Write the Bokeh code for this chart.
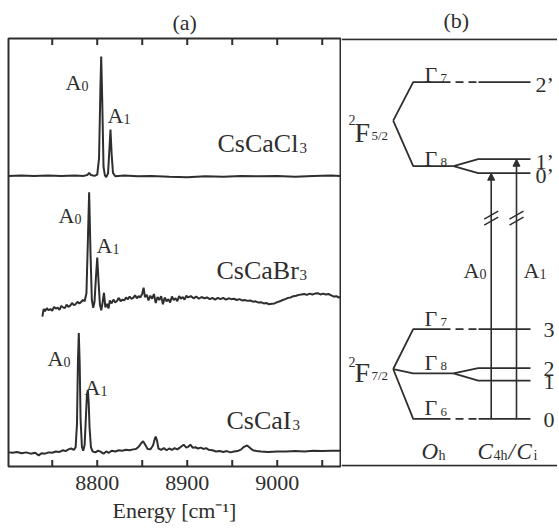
from bokeh.plotting import figure
from bokeh.models import Range1d, FixedTicker, Label, Arrow, NormalHead
from bokeh.layouts import row
from bokeh.embed import file_html
from bokeh.resources import INLINE

# ---------------- Panel (a): emission spectra (intensity incl. vertical offset) ----------------
energy_cl = [8702, 8715, 8730, 8745, 8760, 8775, 8785, 8789, 8791, 8793, 8797, 8800, 8802,
             8803.5, 8804.4, 8805.5, 8807, 8808.5, 8810, 8812, 8813.5, 8814.7, 8816, 8817.5,
             8820, 8830, 8845, 8860, 8880, 8900, 8920, 8940, 8960, 8980, 9000, 9020, 9040,
             9060, 9070]
intensity_cl = [67.9, 68.0, 67.9, 68.0, 67.9, 68.0, 67.9, 68.1, 68.6, 68.1, 67.9, 68.2, 72.0,
                88.0, 95.8, 86.0, 70.0, 68.0, 67.6, 68.5, 74.0, 78.7, 73.0, 68.6,
                67.8, 68.0, 67.8, 67.9, 67.7, 67.6, 67.8, 67.7, 67.9, 67.8, 67.9, 67.7, 67.9,
                68.0, 67.9]

energy_br = [8739, 8740.5,
             8742, 8744, 8746, 8748, 8750, 8752, 8754, 8756, 8758, 8760, 8762, 8764,
             8766, 8768, 8770, 8772, 8774, 8776, 8778, 8780, 8782, 8784, 8786, 8788,
             8789.5, 8791, 8792.5, 8794, 8795.5, 8797, 8798.5, 8800, 8801.5, 8803, 8804.5,
             8806, 8807.5, 8809, 8811, 8812.5, 8814,
             8816, 8818, 8820, 8822, 8824, 8826, 8828, 8830, 8832, 8834, 8836, 8838, 8840,
             8842, 8844, 8846, 8848, 8850,
             8851.5, 8853,
             8855, 8857, 8859, 8861, 8863, 8865, 8867, 8869, 8871, 8873, 8875, 8877, 8879,
             8881, 8883, 8885, 8887, 8889, 8891, 8893, 8895, 8897, 8899,
             8901, 8904, 8907, 8910, 8913, 8916, 8919, 8922, 8925, 8928, 8931, 8934, 8937,
             8940, 8943, 8946, 8949, 8952, 8955, 8958, 8961, 8964, 8967, 8970, 8973, 8976,
             8979, 8982, 8985, 8988, 8991, 8994, 8997, 9000, 9003, 9006, 9009, 9012, 9015,
             9018, 9021, 9024, 9027, 9030, 9033, 9036, 9039, 9042, 9045, 9048, 9051, 9054,
             9057, 9060, 9063, 9066, 9068, 9070]
intensity_br = [35.0, 36.8,
                36.3, 37.0, 36.5, 36.8, 36.4, 37.3, 36.9, 37.1, 36.6, 37.5, 37.2, 37.0,
                37.8, 37.3, 37.6, 38.2, 37.7, 37.9, 38.5, 38.1, 38.4, 38.9, 38.6, 40.5,
                52.0, 64.1, 50.0, 39.0, 37.1, 38.5, 44.0, 48.8, 43.0, 37.8, 36.5,
                38.4, 40.6, 37.2, 38.0, 36.9, 38.8,
                38.1, 39.0, 38.3, 38.7, 39.4, 38.6, 39.0, 38.8, 39.5, 39.1, 39.7, 39.2, 39.4,
                40.0, 39.3, 39.8, 39.5, 40.4,
                41.8, 39.6,
                40.1, 38.8, 39.9, 39.2, 40.3, 38.2, 39.6, 38.9, 39.8, 37.9, 39.5, 38.6, 39.1,
                38.3, 39.7, 38.9, 39.3, 38.6, 39.8, 39.2, 39.6, 39.0, 39.9,
                39.5, 39.8, 39.3, 39.7, 39.2, 39.6, 39.3, 39.5, 39.1, 39.4, 39.0, 39.4, 39.1,
                39.4, 39.0, 39.3, 39.1, 39.2, 38.9, 39.1, 38.8, 38.9, 38.7, 38.8, 38.5, 38.6,
                38.3, 38.4, 38.1, 38.2, 37.9, 38.0, 38.1, 38.4, 38.6, 38.9, 39.1, 39.4, 39.5,
                39.8, 39.9, 40.1, 40.2, 40.3, 40.1, 40.4, 40.2, 40.4, 40.5, 40.2, 40.4, 40.2,
                40.3, 40.0, 39.7, 39.8, 39.5, 39.6]

energy_i = [8702, 8706, 8711, 8716, 8721, 8726, 8731, 8735, 8738, 8742, 8746, 8750, 8754, 8758,
            8762, 8765, 8768, 8771, 8774, 8776, 8777.5, 8778.5, 8779.5, 8780.5, 8781.5, 8783,
            8784.4, 8786, 8787.5, 8788.5, 8789.5, 8790.5, 8791.5, 8793, 8795, 8798, 8801, 8804,
            8807, 8810, 8813, 8816, 8820, 8824, 8828, 8832, 8836, 8840, 8843, 8846, 8849, 8851,
            8853, 8856, 8859, 8862, 8864, 8865, 8866.5, 8868, 8871, 8874, 8877, 8880, 8883,
            8886, 8889, 8893, 8896, 8899, 8901, 8903.5, 8906, 8909, 8912, 8915, 8918, 8921,
            8924, 8928, 8932, 8936, 8940, 8944, 8948, 8952, 8956, 8960, 8963, 8966.5, 8970,
            8973, 8977, 8982, 8990, 9000, 9010, 9020, 9030, 9040, 9050, 9060, 9070]
intensity_i = [3.3, 3.2, 3.4, 3.1, 3.3, 3.0, 3.2, 2.6, 3.1, 3.0, 3.3, 3.2, 3.5, 3.4,
               3.8, 3.6, 4.0, 4.2, 3.9, 4.5, 10.0, 24.0, 31.2, 24.0, 11.0, 4.5,
               3.7, 5.0, 12.0, 16.5, 17.9, 15.0, 9.0, 4.5, 3.5, 3.3, 3.7, 3.4,
               3.0, 3.5, 3.2, 3.7, 3.5, 3.8, 3.7, 3.9, 3.8, 4.0, 4.1, 4.6, 5.5, 5.9,
               5.2, 4.1, 4.0, 4.9, 6.5, 7.0, 6.0, 4.2, 3.9, 4.3, 3.8, 4.2, 3.9,
               4.3, 4.0, 4.6, 5.1, 4.4, 4.6, 5.1, 4.4, 4.5, 4.2, 4.4, 4.1, 4.3,
               3.9, 3.8, 3.5, 3.6, 3.4, 3.6, 3.3, 3.5, 3.6, 4.0, 4.6, 4.9, 4.3,
               3.8, 3.6, 3.5, 3.4, 3.5, 3.5, 3.6, 3.5, 3.7, 3.6, 3.7, 3.7]

tick_major = [8800, 8900, 9000]
tick_minor = [8750, 8850, 8950, 9050]

# ---------------- Panel (b): level scheme (schematic vertical positions) ----------------
excited_vertex_y = 119.3
excited_oh_y = [80.7, 165.0]            # Gamma7, Gamma8
excited_c4h_y = [80.7, 158.0, 172.0]    # 2', 1', 0'
excited_c4h_names = ["2\u2019", "1\u2019", "0\u2019"]
ground_vertex_y = 368.3
ground_oh_y = [328.3, 372.7, 418.3]     # Gamma7, Gamma8, Gamma6
ground_c4h_y = [328.3, 367.3, 380.0, 418.3]   # 3, 2, 1, 0
ground_c4h_names = ["3", "2", "1", "0"]

FONT = "Liberation Serif"
INK = "#2e2e2e"
H = 528
TOP, BOTTOM = 37, H - 466   # borders shared by both panels


def style_title(p, text, offset, standoff):
    p.title.text = text
    p.title.align = "left"
    p.title.offset = offset
    p.title.standoff = standoff
    p.title.text_font = FONT
    p.title.text_font_size = "22px"
    p.title.text_font_style = "normal"
    p.title.text_color = INK


# ---------------- figure (a) ----------------
p1 = figure(width=341, height=H, x_range=Range1d(8701.4, 9070.3), y_range=Range1d(0, 100),
            y_axis_type=None, output_backend="svg", toolbar_location=None,
            min_border_left=8, min_border_right=1, min_border_top=TOP, min_border_bottom=BOTTOM)
p1.grid.visible = False
p1.outline_line_color = INK
p1.outline_line_width = 2
p1.background_fill_color = "white"
p1.border_fill_color = "white"
style_title(p1, "(a)", 164, 8)

ax = p1.xaxis[0]
ax.ticker = FixedTicker(ticks=tick_major, minor_ticks=tick_minor)
ax.axis_line_color = None
ax.major_tick_in = 0
ax.major_tick_out = 0
ax.minor_tick_in = 0
ax.minor_tick_out = 0
ax.major_label_text_font = FONT
ax.major_label_text_font_size = "22px"
ax.major_label_text_color = INK
ax.major_label_standoff = 9
ax.axis_label = "Energy [cm\u207b\u00b9]"
ax.axis_label_text_font = FONT
ax.axis_label_text_font_size = "22px"
ax.axis_label_text_font_style = "normal"
ax.axis_label_text_color = INK
ax.axis_label_standoff = 5

# inward ticks on bottom and top edges, at the tick values
all_ticks = tick_major + tick_minor
p1.segment(x0=all_ticks, y0=[0] * len(all_ticks), x1=all_ticks, y1=[1.5] * len(all_ticks),
           line_color=INK, line_width=2)
p1.segment(x0=all_ticks, y0=[100] * len(all_ticks), x1=all_ticks, y1=[98.5] * len(all_ticks),
           line_color=INK, line_width=2)

for ex, iy in ((energy_cl, intensity_cl), (energy_br, intensity_br), (energy_i, intensity_i)):
    p1.line(ex, iy, line_color=INK, line_width=2)


def lab(p, x, y, text, size, units="data", style="normal", align="left", baseline="alphabetic"):
    p.add_layout(Label(x=x, y=y, x_units=units, y_units=units, text=text, text_font=FONT,
                       text_font_size=f"{size}px", text_color=INK, text_align=align,
                       text_baseline=baseline, text_font_style=style))


S = "screen"
# frame-relative screen positions (x from frame left, y up from frame bottom)
# CsCaCl3
lab(p1, 57, 384, "A", 22, S); lab(p1, 73, 381, "0", 14, S)
lab(p1, 99, 351, "A", 22, S); lab(p1, 115, 348, "1", 14, S)
lab(p1, 209, 323, "CsCaCl", 26, S); lab(p1, 291, 319, "3", 15, S)
# CsCaBr3
lab(p1, 50, 251, "A", 22, S); lab(p1, 66, 248, "0", 14, S)
lab(p1, 88, 221, "A", 22, S); lab(p1, 104, 218, "1", 14, S)
lab(p1, 208, 196, "CsCaBr", 26, S); lab(p1, 291, 192, "3", 15, S)
# CsCaI3
lab(p1, 39, 108, "A", 22, S); lab(p1, 55, 105, "0", 14, S)
lab(p1, 76, 79, "A", 22, S); lab(p1, 92, 76, "1", 14, S)
lab(p1, 218, 46, "CsCaI", 26, S); lab(p1, 284, 42, "3", 15, S)

# ---------------- figure (b) ----------------
p2 = figure(width=216, height=H, x_range=Range1d(341, 557), y_range=Range1d(466, 37),
            x_axis_type=None, y_axis_type=None, output_backend="svg", toolbar_location=None,
            min_border_left=0, min_border_right=0, min_border_top=TOP, min_border_bottom=BOTTOM)
p2.grid.visible = False
p2.outline_line_color = None
p2.background_fill_color = "white"
p2.border_fill_color = "white"
style_title(p2, "(b)", 102, 11)

# frame of panel (b) (top and bottom edges)
p2.segment(x0=[341, 341], y0=[37.8, 465.2], x1=[560, 560], y1=[37.8, 465.2],
           line_color=INK, line_width=2)

LW = 1.8
VX, LX0, LX1 = 392.7, 412.7, 450.0
SPX0, SPX1 = 453.0, 477.7
DX0, DX1 = 455.0, 477.0
CX0, CX1 = 478.0, 530.0


def manifold(vy, oh, split_idx, split_pair):
    xs, ys = [], []
    for k, ly in enumerate(oh):
        if k == split_idx:
            xs.append([VX, LX0, SPX0]); ys.append([vy, ly, ly])
            for sy in split_pair:
                xs.append([SPX0, SPX1, CX1]); ys.append([ly, sy, sy])
        else:
            xs.append([VX, LX0, LX1]); ys.append([vy, ly, ly])
            p2.line([DX0, DX1], [ly, ly], line_color=INK, line_width=LW, line_dash="8 5")
            xs.append([CX0, CX1]); ys.append([ly, ly])
    p2.multi_line(xs, ys, line_color=INK, line_width=LW)


manifold(excited_vertex_y, excited_oh_y, 1, [excited_c4h_y[1], excited_c4h_y[2]])
manifold(ground_vertex_y, ground_oh_y, 1, [ground_c4h_y[1], ground_c4h_y[2]])

# transitions A0 (0 -> 0') and A1 (0 -> 1')
arrow_x = [490.7, 516.0]
arrow_top = [excited_c4h_y[2], excited_c4h_y[1]]
for xa, yt in zip(arrow_x, arrow_top):
    p2.add_layout(Arrow(end=NormalHead(size=7, fill_color=INK, line_color=INK),
                        x_start=xa, y_start=ground_c4h_y[3], x_end=xa, y_end=yt,
                        line_color=INK, line_width=1.6))
    p2.segment(x0=[xa - 7, xa - 7], y0=[218, 224], x1=[xa + 7, xa + 7], y1=[210, 216],
               line_color=INK, line_width=1.4)

# texts in panel (b)
lab(p2, 348, 119, "2", 14); lab(p2, 354, 131, "F", 28); lab(p2, 371, 134, "5/2", 13)
lab(p2, 348, 361, "2", 14); lab(p2, 354, 372, "F", 28); lab(p2, 371, 375, "7/2", 13)
for ly, sub in zip(excited_oh_y, ["7", "8"]):
    lab(p2, 424, ly - 8, "\u0393", 22); lab(p2, 440, ly - 4, sub, 13)
for ly, sub in zip(ground_oh_y, ["7", "8", "6"]):
    lab(p2, 424, ly - 11, "\u0393", 22); lab(p2, 440, ly - 7, sub, 13)
for ly, name in zip(excited_c4h_y, excited_c4h_names):
    lab(p2, 535, ly + 2, name, 22, baseline="middle")
for ly, name in zip(ground_c4h_y, ground_c4h_names):
    lab(p2, 543, ly + 1, name, 22, baseline="middle")
lab(p2, 463, 270, "A", 22); lab(p2, 479, 273, "0", 14)
lab(p2, 523, 270, "A", 22); lab(p2, 539, 273, "1", 14)
lab(p2, 421, 451, "O", 23, style="italic"); lab(p2, 438, 455, "h", 14)
lab(p2, 477, 451, "C", 23, style="italic"); lab(p2, 493, 455, "4h", 14)
lab(p2, 508, 451, "/", 23, style="italic")
lab(p2, 516, 451, "C", 23, style="italic"); lab(p2, 533, 455, "i", 14)

layout = row(p1, p2)
open("out.html", "w").write(file_html(layout, INLINE))
